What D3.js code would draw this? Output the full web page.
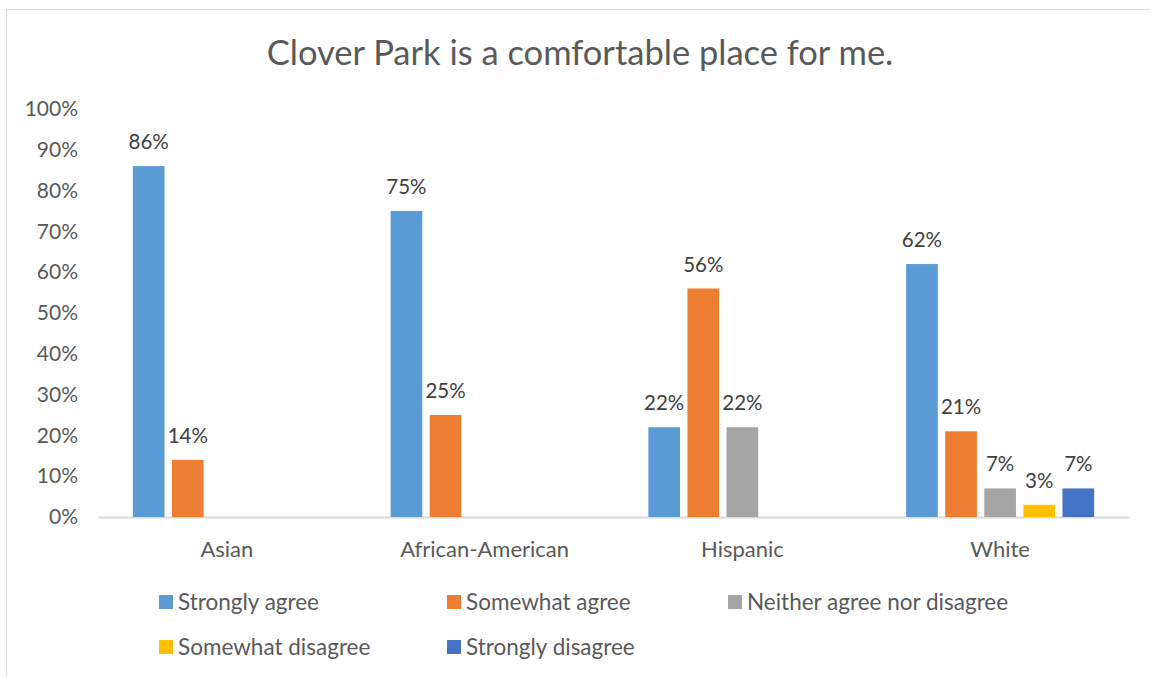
<!DOCTYPE html>
<html>
<head>
<meta charset="utf-8">
<script src="https://cdn.jsdelivr.net/npm/d3@7"></script>
<style>
  body { margin: 0; background: #fff; }
  svg { display: block; font-family: Lato, "Open Sans", sans-serif; }
</style>
</head>
<body>
<div id="chart"></div>
<script>
const WIDTH = 1150;
const HEIGHT = 677;
const TEXT_COLOR = "#595959";

const title = "Clover Park is a comfortable place for me.";
const categories = ["Asian", "African-American", "Hispanic", "White"];
const seriesNames = ["Strongly agree", "Somewhat agree", "Neither agree nor disagree", "Somewhat disagree", "Strongly disagree"];
const seriesColors = ["#5B9BD5", "#ED7D31", "#A5A5A5", "#FFC000", "#4472C4"];
// null = no response in that group (no bar, no label)
const stronglyAgree    = [86, 75, 22, 62];
const somewhatAgree    = [14, 25, 56, 21];
const neither          = [null, null, 22, 7];
const somewhatDisagree = [null, null, null, 3];
const stronglyDisagree = [null, null, null, 7];
const yTicks = [0, 10, 20, 30, 40, 50, 60, 70, 80, 90, 100];

const seriesValues = [stronglyAgree, somewhatAgree, neither, somewhatDisagree, stronglyDisagree];

let svg = d3.select("#chart").append("svg")
    .attr("width", WIDTH)
    .attr("height", HEIGHT);

// chart border (light gray, as in the office export)
svg.append("rect")
    .attr("x", 6.5).attr("y", 9.5)
    .attr("width", WIDTH + 10).attr("height", HEIGHT + 10)
    .attr("fill", "none")
    .attr("stroke", "#d9d9d9");

// title
svg.append("text")
    .attr("x", 580).attr("y", 65)
    .attr("text-anchor", "middle")
    .attr("fill", TEXT_COLOR)
    .style("font-size", "34.5px")
    .text(title);

// scales
let xScale = d3.scaleBand().domain(categories).range([98, 1129]);
let xInner = d3.scaleBand().domain(seriesNames).range([0, 188]).paddingInner(0.19);
let yScale = d3.scaleLinear().domain([0, 100]).range([517, 109]);

// y labels
let yAxis = d3.axisLeft(yScale).tickValues(yTicks).tickSize(0).tickPadding(0).tickFormat(d => d + "%");
let yG = svg.append("g").attr("transform", "translate(78,0)").call(yAxis);
yG.select(".domain").remove();
yG.selectAll("text").attr("fill", TEXT_COLOR).style("font-size", "21px").style("font-family", "Lato, sans-serif");

// x axis
let xAxis = d3.axisBottom(xScale).tickSize(0).tickPadding(24);
let xG = svg.append("g").attr("transform", "translate(0,517)").call(xAxis);
xG.select(".domain").attr("stroke", "#d9d9d9").attr("stroke-width", 2);
xG.selectAll("text").attr("fill", TEXT_COLOR).style("font-size", "22px").style("font-family", "Lato, sans-serif");

// bars
let flat = [];
categories.forEach((c, ci) => {
  seriesNames.forEach((s, si) => {
    const v = seriesValues[si][ci];
    if (v !== null) flat.push({cat: c, series: s, si: si, value: v});
  });
});
const barX = d => xScale(d.cat) + xScale.bandwidth() / 2 - 94 + xInner(d.series);

let barsG = svg.append("g");
barsG.selectAll("rect")
    .data(flat)
  .enter().append("rect")
    .attr("x", barX)
    .attr("y", d => yScale(d.value))
    .attr("width", xInner.bandwidth())
    .attr("height", d => yScale(0) - yScale(d.value))
    .attr("fill", d => seriesColors[d.si]);

// data labels
barsG.selectAll("text")
    .data(flat)
  .enter().append("text")
    .attr("x", d => barX(d) + xInner.bandwidth() / 2)
    .attr("y", d => yScale(d.value) - 17)
    .attr("text-anchor", "middle")
    .attr("fill", "#404040")
    .style("font-size", "20.5px")
    .text(d => d.value + "%");

// legend
const legendX = [159, 447, 728];
const legendY = [595, 640];
let legendG = svg.append("g");
let items = legendG.selectAll("g")
    .data(seriesNames)
  .enter().append("g")
    .attr("transform", (d, i) => "translate(" + legendX[i % 3] + "," + legendY[Math.floor(i / 3)] + ")");
items.append("rect")
    .attr("width", 14).attr("height", 14)
    .attr("fill", (d, i) => seriesColors[i]);
items.append("text")
    .attr("x", 19).attr("y", 15)
    .attr("fill", TEXT_COLOR)
    .style("font-size", "22.5px")
    .text(d => d);
</script>
</body>
</html>
